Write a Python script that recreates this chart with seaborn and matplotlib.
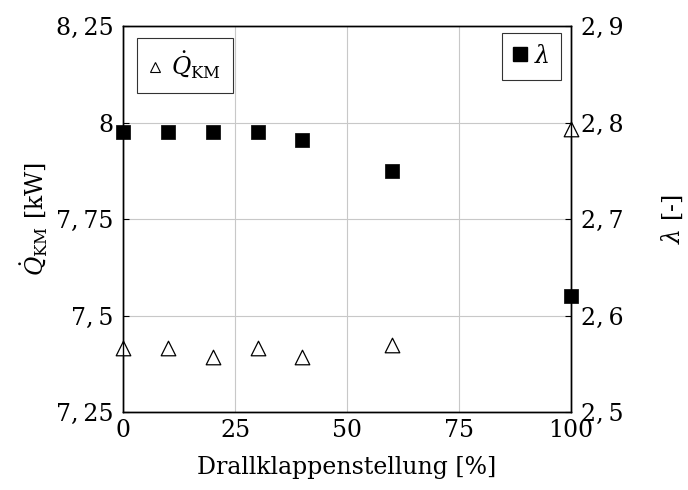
import matplotlib
matplotlib.use("Agg")
import matplotlib.pyplot as plt
import seaborn as sns
import pandas as pd
from matplotlib.ticker import FuncFormatter, FixedLocator
from matplotlib.lines import Line2D

sns.set_theme(style="white")
plt.rcParams["font.family"] = ["DejaVu Serif"]
plt.rcParams["mathtext.fontset"] = "dejavuserif"
plt.rcParams["text.color"] = "black"
plt.rcParams["axes.labelcolor"] = "black"

# Measured values
drallklappe = [0, 10, 20, 30, 40, 60, 100]          # Drallklappenstellung [%]
q_km = [7.415, 7.415, 7.393, 7.415, 7.393, 7.424, 7.982]  # Q_KM [kW]
lam = [2.79, 2.79, 2.79, 2.79, 2.782, 2.75, 2.62]          # lambda [-]

x_ticks = [0, 25, 50, 75, 100]
left_ticks = [7.25, 7.5, 7.75, 8.0, 8.25]
right_ticks = [2.5, 2.6, 2.7, 2.8, 2.9]

df = pd.DataFrame({"x": drallklappe, "q": q_km, "lam": lam})

fs = 17
fig = plt.figure(figsize=(6.88, 4.90), dpi=100)
ax = fig.add_axes([0.179, 0.159, 0.651, 0.788])
ax2 = ax.twinx()


def comma_fmt(v, pos):
    s = f"{v:g}"
    return s.replace(".", ",\u2009")


sns.scatterplot(data=df, x="x", y="q", ax=ax, marker="^", s=110,
                facecolor="white", edgecolor="black", linewidth=0.9,
                clip_on=False, zorder=5)
sns.scatterplot(data=df, x="x", y="lam", ax=ax2, marker="s", s=105,
                color="black", edgecolor="black", linewidth=0.5,
                clip_on=False, zorder=5)

ax.set_xlim(0, 100)
ax.set_ylim(7.25, 8.25)
ax2.set_ylim(2.5, 2.9)
ax.xaxis.set_major_locator(FixedLocator(x_ticks))
ax.yaxis.set_major_locator(FixedLocator(left_ticks))
ax2.yaxis.set_major_locator(FixedLocator(right_ticks))
ax.yaxis.set_major_formatter(FuncFormatter(comma_fmt))
ax2.yaxis.set_major_formatter(FuncFormatter(comma_fmt))

ax.grid(True, color="#c8c8c8", linewidth=0.8)
ax.set_axisbelow(True)
for a in (ax, ax2):
    for sp in a.spines.values():
        sp.set_color("black")
        sp.set_linewidth(1.0)
    a.tick_params(direction="in", length=4, width=0.8, colors="black",
                  labelsize=fs, pad=7)
ax.tick_params(axis="x", top=False, pad=5)

ax.set_xlabel("Drallklappenstellung [%]", fontsize=fs, labelpad=10)
ax.set_ylabel(r"$\dot{Q}_{\mathrm{KM}}$ [kW]", fontsize=fs, labelpad=4)
ax2.set_ylabel(r"$\lambda$ [-]", fontsize=fs, labelpad=26)

h1 = [Line2D([], [], marker="^", linestyle="none", markersize=7,
             markerfacecolor="white", markeredgecolor="black", markeredgewidth=0.8)]
h2 = [Line2D([], [], marker="s", linestyle="none", markersize=10,
             markerfacecolor="black", markeredgecolor="black")]
leg1 = ax.legend(h1, [r"$\dot{Q}_{\mathrm{KM}}$"], loc="upper left",
                 bbox_to_anchor=(0.031, 0.969),
                 fontsize=fs, frameon=True, fancybox=False, edgecolor="black",
                 handlelength=0.5, handletextpad=0.45, borderpad=0.5,
                 borderaxespad=0.0)
leg1.get_frame().set_linewidth(0.8)
leg2 = ax2.legend(h2, [r"$\lambda$"], loc="upper right",
                  bbox_to_anchor=(0.978, 0.982),
                  fontsize=fs, frameon=True, fancybox=False, edgecolor="black",
                  handlelength=0.5, handletextpad=0.35, borderpad=0.5,
                  borderaxespad=0.0)
leg2.get_frame().set_linewidth(0.8)

fig.savefig("out.png", dpi=100)
